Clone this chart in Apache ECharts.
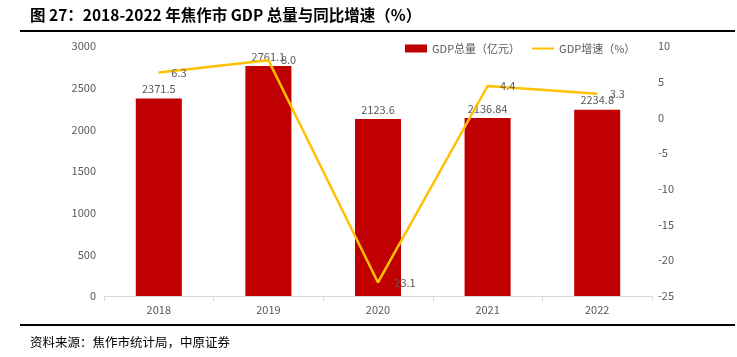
<!DOCTYPE html>
<html><head><meta charset="utf-8">
<script src="https://cdn.jsdelivr.net/npm/echarts@6/dist/echarts.min.js"></script>
<style>html,body{margin:0;padding:0;background:#fff}#c{width:737px;height:357px}</style>
</head><body><div id="c"></div>
<script>
const categories = ['2018','2019','2020','2021','2022'];
const gdpTotal = [2371.5, 2761.1, 2123.6, 2136.84, 2234.8];
const gdpTotalLabels = ['2371.5','2761.1','2123.6','2136.84','2234.8'];
const gdpGrowth = [6.3, 8.0, -23.1, 4.4, 3.3];
const leftTicks = {min:0, max:3000, interval:500};
const rightTicks = {min:-25, max:10, interval:5};

const chart = echarts.init(document.getElementById('c'));
const font = '"Microsoft YaHei","Noto Sans CJK SC","Noto Sans",sans-serif';
chart.setOption({
  animation:false,
  textStyle:{fontFamily:font},
  title:[{
    text:'图 27：2018-2022 年焦作市 GDP 总量与同比增速（%）',
    left:25, top:2,
    textStyle:{fontSize:15.5, fontWeight:'bold', color:'#000', fontFamily:font}
  },{
    text:'资料来源：焦作市统计局，中原证券',
    left:25, top:331,
    textStyle:{fontSize:12.5, fontWeight:'normal', color:'#000', fontFamily:font}
  }],
  graphic:[
    {type:'rect', shape:{x:20,y:30,width:715,height:2}, style:{fill:'#000'}},
    {type:'rect', shape:{x:20,y:324,width:715,height:2}, style:{fill:'#000'}}
  ],
  legend:{
    top:38, left:400,
    itemWidth:22, itemHeight:8, itemGap:12,
    textStyle:{fontSize:11, color:'#595959'},
    data:[{name:'GDP总量（亿元）', icon:'rect'},{name:'GDP增速（%）', icon:'path://M0,0 L22,0 L22,2 L0,2 Z'}]
  },
  grid:{left:104, right:85, top:46, bottom:61},
  xAxis:{
    type:'category', data:categories,
    axisLine:{lineStyle:{color:'#d9d9d9'}},
    axisTick:{show:true, lineStyle:{color:'#d9d9d9'}},
    axisLabel:{color:'#595959', fontSize:11, margin:8}
  },
  yAxis:[{
    type:'value', min:leftTicks.min, max:leftTicks.max, interval:leftTicks.interval,
    splitLine:{show:false}, axisLine:{show:false}, axisTick:{show:false},
    axisLabel:{color:'#595959', fontSize:11, margin:8, formatter:v=>String(v)}
  },{
    type:'value', min:rightTicks.min, max:rightTicks.max, interval:rightTicks.interval,
    splitLine:{show:false}, axisLine:{show:false}, axisTick:{show:false},
    axisLabel:{color:'#595959', fontSize:11, margin:6, align:'left', formatter:v=>String(v)}
  }],
  series:[{
    name:'GDP总量（亿元）', type:'bar', data:gdpTotal, barWidth:'42%',
    itemStyle:{color:'#C00000'},
    label:{show:true, position:'top', color:'#595959', fontSize:11, distance:4,
      formatter:p=>gdpTotalLabels[p.dataIndex]}
  },{
    name:'GDP增速（%）', type:'line', yAxisIndex:1, data:gdpGrowth,
    symbol:'circle', symbolSize:1, showSymbol:true,
    lineStyle:{color:'#FFC000', width:2.5}, itemStyle:{color:'#FFC000'},
    label:{show:true, position:'right', color:'#595959', fontSize:11, distance:12,
      formatter:p=>p.value.toFixed(1)}
  }]
});
</script></body></html>
